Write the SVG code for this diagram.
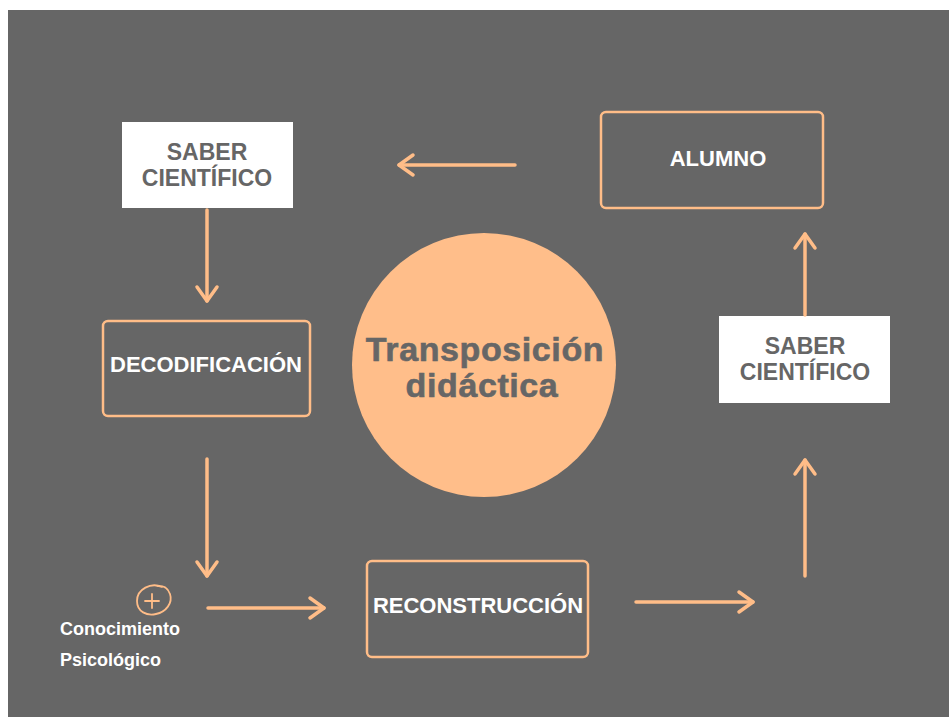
<svg xmlns="http://www.w3.org/2000/svg" width="949" height="717" viewBox="0 0 949 717">
<defs>
<style>
.bg{fill:#666666}
.wbox{fill:#ffffff}
.obox{fill:none;stroke:#FFBD88;stroke-width:2.5}
.lbl{font-family:"Liberation Sans",Arial,sans-serif;font-weight:bold;font-size:22px;text-anchor:middle}
.big{font-size:23px}
.dark{fill:#666666}
.light{fill:#ffffff}
.conn{fill:none;stroke:#FFBD88;stroke-width:3.5;stroke-linecap:round}
.small{font-family:"Liberation Sans",Arial,sans-serif;font-weight:bold;font-size:18px;fill:#ffffff}
.title{font-family:"Liberation Sans",Arial,sans-serif;font-weight:bold;font-size:34px;letter-spacing:0.6px;fill:#666666;text-anchor:middle;stroke:#666666;stroke-width:0.6}
</style>
<marker id="head" markerUnits="userSpaceOnUse" markerWidth="40" markerHeight="40" viewBox="-20 -20 40 40" refX="0" refY="0" orient="auto">
<path d="M-14,-10 L0,0 L-14,10" fill="none" stroke="#FFBD88" stroke-width="3.5" stroke-linecap="round" stroke-linejoin="round"/>
</marker>
</defs>
<rect x="0" y="0" width="949" height="717" fill="#ffffff"/>
<rect class="bg" x="8" y="10" width="941" height="707"/>

<g id="centro">
<circle cx="484" cy="365" r="132" fill="#FFBE8A"/>
<text class="title" x="485" y="361">Transposición</text>
<text class="title" x="482" y="397">didáctica</text>
</g>

<g id="saber1">
<rect class="wbox" x="122" y="122" width="171" height="86"/>
<text class="lbl big dark" x="207" y="160">SABER</text>
<text class="lbl big dark" x="207" y="186">CIENTÍFICO</text>
</g>

<g id="decodificacion">
<rect class="obox" x="103" y="321" width="207" height="95" rx="5"/>
<text class="lbl light" x="206" y="372">DECODIFICACIÓN</text>
</g>

<g id="conocimiento">
<path d="M162,587 C151,582 137,589 137,601 C137,612 147,616 156,614 C166,612 173,603 170,594 C168,588 163,585 157,586" fill="none" stroke="#FFBD88" stroke-width="1.8" stroke-linecap="round"/>
<path d="M152,594 L152,608 M145,601 L159,601" fill="none" stroke="#FFBD88" stroke-width="1.8" stroke-linecap="round"/>
<text class="small" x="60" y="635">Conocimiento</text>
<text class="small" x="60" y="666">Psicológico</text>
</g>

<g id="reconstruccion">
<rect class="obox" x="367" y="561" width="221" height="96" rx="5"/>
<text class="lbl light" x="478" y="613">RECONSTRUCCIÓN</text>
</g>

<g id="saber2">
<rect class="wbox" x="719" y="316" width="171" height="87"/>
<text class="lbl big dark" x="805" y="354">SABER</text>
<text class="lbl big dark" x="805" y="380">CIENTÍFICO</text>
</g>

<g id="alumno">
<rect class="obox" x="601" y="112" width="222" height="96" rx="5"/>
<text class="lbl light" x="718" y="166">ALUMNO</text>
</g>

<g id="connectors">
<path class="conn" d="M207,210 L207,301" marker-end="url(#head)"/>
<path class="conn" d="M207,459 L207,576" marker-end="url(#head)"/>
<path class="conn" d="M208,608 L324,608" marker-end="url(#head)"/>
<path class="conn" d="M636,602 L753,602" marker-end="url(#head)"/>
<path class="conn" d="M805,576 L805,460" marker-end="url(#head)"/>
<path class="conn" d="M805,315 L805,234" marker-end="url(#head)"/>
<path class="conn" d="M515,165 L399,165" marker-end="url(#head)"/>
</g>
</svg>
